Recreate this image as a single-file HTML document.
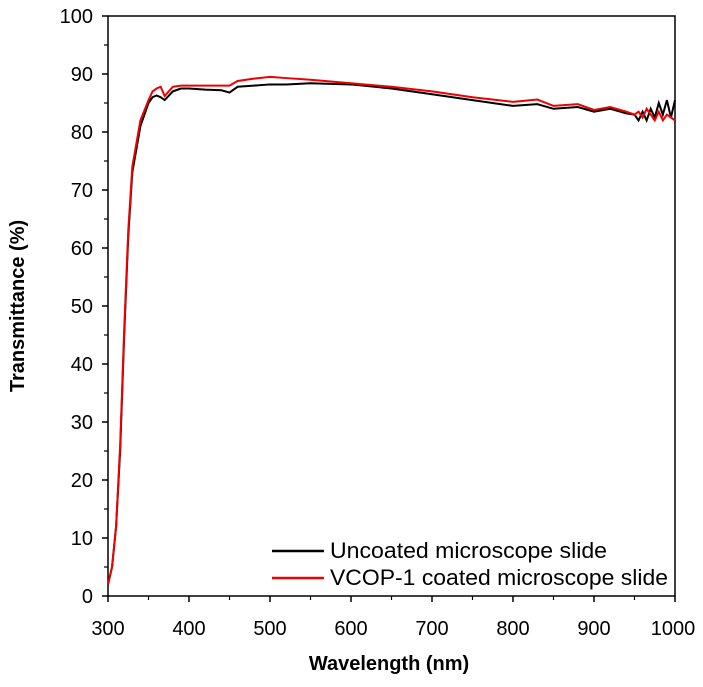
<!DOCTYPE html>
<html><head><meta charset="utf-8"><style>
body{margin:0;background:#fff}
svg text{font-family:"Liberation Sans",Arial,sans-serif;fill:#000}
</style></head><body>
<svg id="c" width="703" height="682" xmlns="http://www.w3.org/2000/svg">
<rect x="108" y="16" width="567" height="580" fill="none" stroke="#000" stroke-width="1.5"/>
<g id="ticks"></g>
<g id="series"></g>
<text x="24" y="306" transform="rotate(-90 24 306)" text-anchor="middle" font-size="20" font-weight="bold">Transmittance (%)</text>
<text x="389" y="670" text-anchor="middle" font-size="20" font-weight="bold">Wavelength (nm)</text>
<g>
<line x1="272" y1="551" x2="324" y2="551" stroke="#000" stroke-width="2.5"/>
<text x="330" y="558" font-size="22" textLength="277" lengthAdjust="spacingAndGlyphs">Uncoated microscope slide</text>
<line x1="272" y1="578" x2="324" y2="578" stroke="#e00" stroke-width="2.5"/>
<text x="330" y="585" font-size="22" textLength="338" lengthAdjust="spacingAndGlyphs">VCOP-1 coated microscope slide</text>
</g>
</svg>
<script>
const xTicks=[300,400,500,600,700,800,900,1000];
const yTicks=[0,10,20,30,40,50,60,70,80,90,100];
const wl=[300,305,310,315,320,325,330,340,350,355,360,365,370,380,390,400,420,440,450,460,480,500,520,550,600,650,700,750,800,830,850,880,900,920,940,950,955,960,965,970,975,980,985,990,995,1000];
const uncoated=[2,5,12,25,45,62,73,81,85,86,86.3,86,85.5,87,87.5,87.5,87.3,87.2,86.8,87.8,88,88.2,88.2,88.4,88.2,87.5,86.5,85.5,84.5,84.8,84,84.3,83.5,84,83.2,83,82,83.5,82,84,82.5,85,83,85.5,82.5,85.5];
const coated=[2,5,12,26,46,63,74,82,85.5,87,87.5,87.8,86.2,87.8,88,88,88,88,88,88.8,89.2,89.5,89.3,89,88.4,87.8,87,86,85.2,85.6,84.5,84.8,83.8,84.3,83.5,83,83.5,82.5,84,83,82,83.5,82,83,82.5,82];
const X=v=>108+(v-300)/700*567, Y=v=>596-v/100*580;
const NS="http://www.w3.org/2000/svg";
const tg=document.getElementById('ticks');
function mk(tag,attrs,parent){const e=document.createElementNS(NS,tag);for(const k in attrs)e.setAttribute(k,attrs[k]);parent.appendChild(e);return e;}
xTicks.forEach(v=>{
 const l=mk('line',{x1:X(v),x2:X(v),y1:596,y2:602,stroke:'#000','stroke-width':1.5},tg);
 
 
 const t=mk('text',{x:X(v)+(v==1000?-2:0),y:635,'text-anchor':'middle','font-size':20},tg);t.textContent=v;
 
 
 if(v<1000){const m=mk('line',{x1:X(v+50),x2:X(v+50),y1:596,y2:600,stroke:'#000','stroke-width':1.2},tg);
 
 }
});
yTicks.forEach(v=>{
 const l=mk('line',{x1:102,x2:108,y1:Y(v),y2:Y(v),stroke:'#000','stroke-width':1.5},tg);
 
 
 const t=mk('text',{x:93,y:Y(v)+7,'text-anchor':'end','font-size':20},tg);t.textContent=v;
 
 
 if(v<100){const m=mk('line',{x1:104,x2:108,y1:Y(v+5),y2:Y(v+5),stroke:'#000','stroke-width':1.2},tg);
 
 }
});
const sg=document.getElementById('series');
[[uncoated,'#000','uncoated-line'],[coated,'#e00','coated-line']].forEach(([d,c,n])=>{
 const p=mk('polyline',{points:wl.map((w,i)=>X(w)+','+Y(d[i])).join(' '),fill:'none',stroke:c,'stroke-width':2},sg);
 
 
});
</script>
</body></html>
